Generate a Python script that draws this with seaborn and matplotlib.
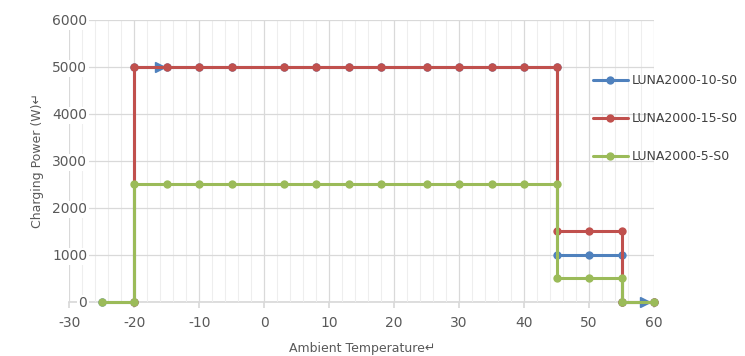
import matplotlib
matplotlib.use("Agg")
import matplotlib.pyplot as plt
import pandas as pd
import seaborn as sns
from matplotlib.ticker import MultipleLocator

sns.set_theme(style="white")
plt.rcParams['font.family'] = ['DejaVu Sans']
plt.rcParams['axes.unicode_minus'] = False

# series data (ambient temperature, charging power)
temp_10 = [-25, -20, -20, -15, -10, -5, 3, 8, 13, 18, 25, 30, 35, 40, 45, 45, 50, 55, 55, 60]
power_10 = [0, 0, 5000, 5000, 5000, 5000, 5000, 5000, 5000, 5000, 5000, 5000, 5000, 5000, 5000,
            1000, 1000, 1000, 0, 0]
temp_15 = [-20, -20, -15, -10, -5, 3, 8, 13, 18, 25, 30, 35, 40, 45, 45, 50, 55, 55, 60]
power_15 = [0, 5000, 5000, 5000, 5000, 5000, 5000, 5000, 5000, 5000, 5000, 5000, 5000, 5000,
            1500, 1500, 1500, 0, 0]
temp_5 = [-25, -20, -20, -15, -10, -5, 3, 8, 13, 18, 25, 30, 35, 40, 45, 45, 50, 55, 55, 60]
power_5 = [0, 0, 2500, 2500, 2500, 2500, 2500, 2500, 2500, 2500, 2500, 2500, 2500, 2500, 2500,
           500, 500, 500, 0, 0]
# arrow heads of the 10 kW series
arrow_temp = [-16, 58.6]
arrow_power = [5000, 0]

names = ["LUNA2000-10-S0", "LUNA2000-15-S0", "LUNA2000-5-S0"]
colors = ["#4F81BD", "#C0504D", "#9BBB59"]

fig, ax = plt.subplots(figsize=(7.45, 3.56), dpi=100)
fig.subplots_adjust(left=0.093, right=0.878, bottom=0.152, top=0.944)

series = [(temp_10, power_10), (temp_15, power_15), (temp_5, power_5)]
for (t, p), name, c in zip(series, names, colors):
    df = pd.DataFrame({"t": t, "p": p})
    sns.lineplot(data=df, x="t", y="p", sort=False, estimator=None, ax=ax, color=c,
                 linewidth=2.2, marker="o", markersize=6, markeredgewidth=0, label=name,
                 clip_on=False)
    if name == names[0]:
        ax.plot(arrow_temp, arrow_power, linestyle="", marker=">", markersize=6.5, color=c,
                zorder=1.5, clip_on=False)

ax.set_xlim(-30, 60)
ax.set_ylim(0, 6000)
ax.xaxis.set_major_locator(MultipleLocator(10))
ax.xaxis.set_minor_locator(MultipleLocator(2))
ax.yaxis.set_major_locator(MultipleLocator(1000))
ax.grid(which="major", color="#D9D9D9", linewidth=0.9)
ax.grid(which="minor", axis="x", color="#EEEEEE", linewidth=0.8)
ax.set_axisbelow(True)
for s in ["top", "right", "left"]:
    ax.spines[s].set_visible(False)
ax.spines["bottom"].set_color("#D9D9D9")
ax.spines["bottom"].set_zorder(0.4)
ax.tick_params(axis="x", which="major", labelsize=10, labelcolor="#595959", color="#D9D9D9",
               length=4, direction="out", bottom=True, pad=6)
ax.tick_params(axis="x", which="minor", bottom=False)
# y tick labels sit just inside the plot area, as in the original
ax.tick_params(axis="y", labelsize=10, labelcolor="#595959", left=False, pad=-19)
for lbl in ax.get_yticklabels():
    lbl.set_bbox(dict(facecolor="white", edgecolor="none", pad=1))

ax.set_xlabel("Ambient Temperature\u21b5", fontsize=9, color="#595959", labelpad=9)
ax.set_ylabel("Charging Power (W)\u21b5", fontsize=9, color="#595959", labelpad=6)

ax.legend(loc="upper left", bbox_to_anchor=(0.884, 0.83), frameon=False, fontsize=9,
          labelspacing=2.0, handlelength=2.8, handletextpad=0.3, borderpad=0,
          labelcolor="#404040")

fig.savefig("out.png", dpi=100)
